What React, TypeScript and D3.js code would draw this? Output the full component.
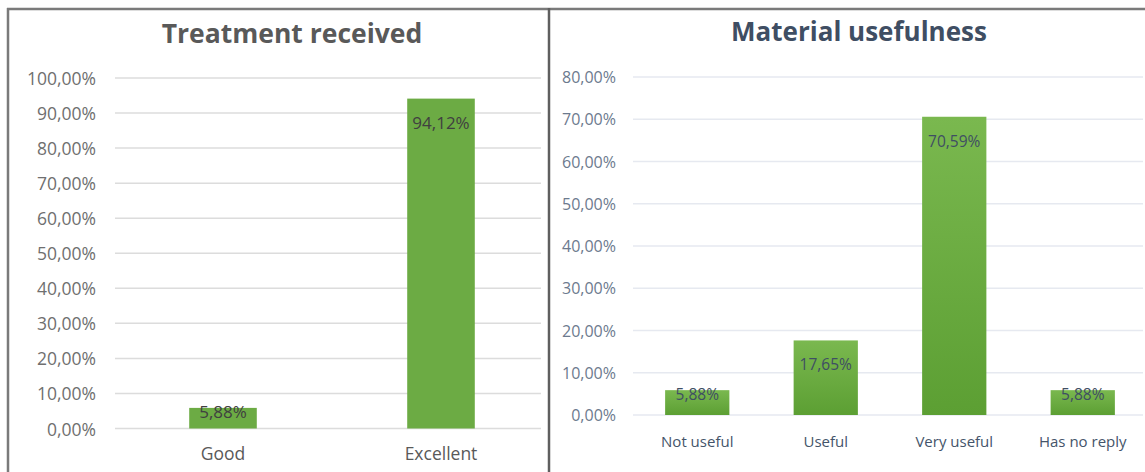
import React from 'react';
import * as d3 from 'd3';

const leftCategories = ['Good', 'Excellent'];
const leftValues = [0.0588, 0.9412];
const leftTicks = [0, 0.1, 0.2, 0.3, 0.4, 0.5, 0.6, 0.7, 0.8, 0.9, 1.0];

const rightCategories = ['Not useful', 'Useful', 'Very useful', 'Has no reply'];
const rightValues = [0.0588, 0.1765, 0.7059, 0.0588];
const rightTicks = [0, 0.1, 0.2, 0.3, 0.4, 0.5, 0.6, 0.7, 0.8];

const fmt = (v: number) => (v * 100).toFixed(2).replace('.', ',') + '%';

const FONT = '"Open Sans", Lato, sans-serif';

type PanelProps = {
  title: string;
  titleColor: string;
  titleX: number;
  titleY: number;
  titleSize: number;
  categories: string[];
  values: number[];
  ticks: number[];
  xRange: [number, number];
  yRange: [number, number];
  gridX: [number, number];
  tickX: number;
  padding: number;
  catY: number;
  tickColor: string;
  tickSize: number;
  catSize: number;
  labelSize: number;
  catColor: string;
  labelColor: string;
  gridColor: string;
  fill: string;
};

function Panel(p: PanelProps) {
  const x = d3.scaleBand<string>().domain(p.categories).range(p.xRange).paddingInner(p.padding).paddingOuter(p.padding / 2);
  const y = d3.scaleLinear().domain([0, p.ticks[p.ticks.length - 1]]).range(p.yRange);
  return (
    <g>
      <text x={p.titleX} y={p.titleY} textAnchor="middle" dominantBaseline="central" fontFamily={FONT} fontWeight={700} fontSize={p.titleSize} fill={p.titleColor}>{p.title}</text>
      {p.ticks.map((t) => (
        <g key={t}>
          <line x1={p.gridX[0]} x2={p.gridX[1]} y1={y(t)} y2={y(t)} stroke={p.gridColor} strokeWidth={1.5} />
          <text x={p.tickX} y={y(t)} textAnchor="end" dominantBaseline="central" fontFamily={FONT} fontSize={p.tickSize} fill={p.tickColor}>{fmt(t)}</text>
        </g>
      ))}
      {p.categories.map((c, i) => {
        const top = y(p.values[i]);
        const h = y(0) - top;
        const ly = h > 40 ? top + 24 : top + 4;
        return (
          <g key={c}>
            <rect x={x(c)!} y={top} width={x.bandwidth()} height={h} fill={p.fill} />
            <text x={x(c)! + x.bandwidth() / 2} y={ly} textAnchor="middle" dominantBaseline="central" fontFamily={FONT} fontSize={p.labelSize} fill={p.labelColor}>{fmt(p.values[i])}</text>
            <text x={x(c)! + x.bandwidth() / 2} y={p.catY} textAnchor="middle" dominantBaseline="central" fontFamily={FONT} fontSize={p.catSize} fill={p.catColor}>{c}</text>
          </g>
        );
      })}
    </g>
  );
}

export default function App() {
  return (
    <svg width={1145} height={472} style={{ position: 'absolute', left: 0, top: 0, background: '#fff' }}>
      <defs>
        <linearGradient id="gr" x1="0" y1="0" x2="0" y2="1">
          <stop offset="0" stopColor="#7ab84f" />
          <stop offset="1" stopColor="#5c9f33" />
        </linearGradient>
      </defs>
      <rect x={0} y={0} width={1145} height={472} fill="#fff" />
      <Panel
        title="Treatment received"
        titleColor="#595959"
        titleX={292}
        titleY={33}
        titleSize={26.5}
        categories={leftCategories}
        values={leftValues}
        ticks={leftTicks}
        xRange={[114, 550]}
        yRange={[428.5, 78]}
        gridX={[115, 541]}
        tickX={96}
        padding={0.69}
        catY={453}
        tickColor="#6f6f6f"
        tickSize={17.5}
        catSize={17.5}
        labelSize={17}
        catColor="#595959"
        labelColor="#404040"
        gridColor="#dcdcdc"
        fill="#6cab44"
      />
      <Panel
        title="Material usefulness"
        titleColor="#3f4e63"
        titleX={859}
        titleY={31}
        titleSize={26}
        categories={rightCategories}
        values={rightValues}
        ticks={rightTicks}
        xRange={[633, 1147]}
        yRange={[415, 77]}
        gridX={[633, 1143]}
        tickX={616}
        padding={0.5}
        catY={441}
        tickColor="#6c7a8e"
        tickSize={16}
        catSize={15}
        labelSize={15.5}
        catColor="#44546a"
        labelColor="#3f4e63"
        gridColor="#e6e9f0"
        fill="url(#gr)"
      />
      <line x1={7} x2={1145} y1={9} y2={9} stroke="#7a7a7a" strokeWidth={2.5} />
      <line x1={8} x2={8} y1={8} y2={472} stroke="#7a7a7a" strokeWidth={2.5} />
      <line x1={549} x2={549} y1={8} y2={472} stroke="#5f5f5f" strokeWidth={2.5} />
    </svg>
  );
}
